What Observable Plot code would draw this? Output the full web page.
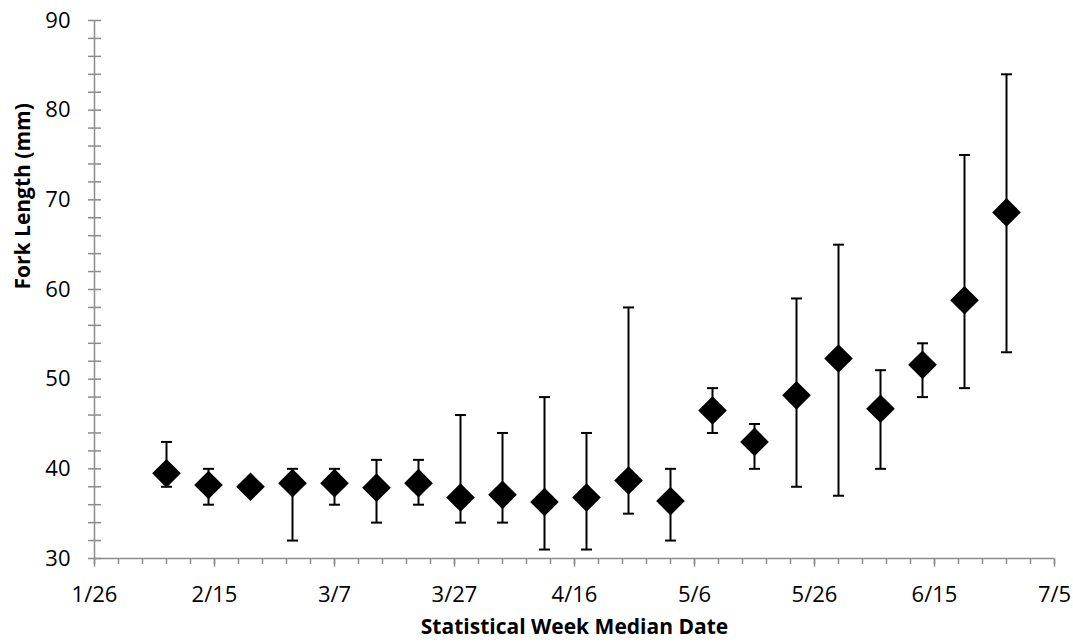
<!DOCTYPE html>
<html><head><meta charset="utf-8">
<script src="https://cdn.jsdelivr.net/npm/d3@7"></script>
<script src="https://cdn.jsdelivr.net/npm/@observablehq/plot@0.6"></script>
<style>
body{margin:0;background:#fff}
#chart{width:1073px;height:644px}
</style>
</head><body><div id="chart"></div>
<script>
// Statistical week median dates
const weekDates = ["2015-02-07","2015-02-14","2015-02-21","2015-02-28","2015-03-07","2015-03-14","2015-03-21",
  "2015-03-28","2015-04-04","2015-04-11","2015-04-18","2015-04-25","2015-05-02","2015-05-09",
  "2015-05-16","2015-05-23","2015-05-30","2015-06-06","2015-06-13","2015-06-20","2015-06-27"];
// Mean fork length (mm)
const meanLength = [39.5,38.2,38.0,38.4,38.4,37.9,38.4,36.8,37.1,36.3,36.8,38.7,36.4,46.5,43.0,48.2,52.3,46.7,51.6,58.8,68.6];
// Minimum / maximum fork length (mm)
const minLength = [38,36,38,32,36,34,36,34,34,31,31,35,32,44,40,38,37,40,48,49,53];
const maxLength = [43,40,38,40,40,41,41,46,44,48,44,58,40,49,45,59,65,51,54,75,84];
// Axis ticks
const xTickDates = ["2015-01-26","2015-02-15","2015-03-07","2015-03-27","2015-04-16","2015-05-06","2015-05-26","2015-06-15","2015-07-05"];
const yTicks = [30,40,50,60,70,80,90];
const xLabel = "Statistical Week Median Date";
const yLabel = "Fork Length (mm)";

const rows = weekDates.map((d, i) => ({date: new Date(d), mean: meanLength[i], lo: minLength[i], hi: maxLength[i]}));
const xTicks = xTickDates.map(d => new Date(d));
const xStart = xTicks[0], xEnd = xTicks[xTicks.length - 1];
const xMinor = d3.range(0, d3.utcDay.count(xStart, xEnd) + 1, 4).map(k => d3.utcDay.offset(xStart, k));
const yMinor = d3.range(yTicks[0], yTicks[yTicks.length - 1] + 1, 2);

const hline = {draw(ctx, size){ const r = Math.sqrt(size / Math.PI); ctx.moveTo(-r, 0); ctx.lineTo(r, 0); }};
const vdown = {draw(ctx, size){ const r = Math.sqrt(size / Math.PI); ctx.moveTo(0, 0); ctx.lineTo(0, r); }};
const gray = "#8c8c8c";

const chart = Plot.plot({
  width: 1073, height: 644,
  marginLeft: 94, marginRight: 19, marginTop: 20, marginBottom: 86,
  style: {fontFamily: "'Open Sans', sans-serif", fontSize: "22px", color: "#000", background: "#fff"},
  x: {type: "utc", domain: [xStart, xEnd]},
  y: {domain: [yTicks[0], yTicks[yTicks.length - 1]]},
  marks: [
    Plot.ruleY([yTicks[0]], {stroke: gray, strokeWidth: 1.5}),
    Plot.ruleX([xStart], {stroke: gray, strokeWidth: 1.5}),
    Plot.dot(yMinor, {x: () => xStart, y: d => d, symbol: hline, r: 6.5, stroke: gray, strokeWidth: 1.5}),
    Plot.dot(xMinor, {x: d => d, y: () => yTicks[0], symbol: vdown, r: 5.5, stroke: gray, strokeWidth: 1.5}),
    Plot.dot(xTicks, {x: d => d, y: () => yTicks[0], symbol: vdown, r: 8, stroke: gray, strokeWidth: 1.5}),
    Plot.axisX(xTicks, {tickSize: 0, tickPadding: 28, tickFormat: d3.utcFormat("%-m/%-d"), label: null}),
    Plot.axisY(yTicks, {tickSize: 0, tickPadding: 24, label: null}),
    Plot.ruleX(rows, {x: "date", y1: "lo", y2: "hi", stroke: "#000", strokeWidth: 2}),
    Plot.dot(rows, {x: "date", y: "lo", symbol: hline, r: 5.5, stroke: "#000", strokeWidth: 2}),
    Plot.dot(rows, {x: "date", y: "hi", symbol: hline, r: 5.5, stroke: "#000", strokeWidth: 2}),
    Plot.dot(rows, {x: "date", y: "mean", symbol: "diamond2", r: 12.9, fill: "#000", stroke: null}),
    Plot.text([xLabel], {frameAnchor: "bottom", dy: 75, fontWeight: "bold", fontSize: 21}),
    Plot.text([yLabel], {frameAnchor: "left", dx: -71, rotate: -90, fontWeight: "bold", fontSize: 21})
  ]
});
document.getElementById("chart").appendChild(chart);
</script>
</body></html>
